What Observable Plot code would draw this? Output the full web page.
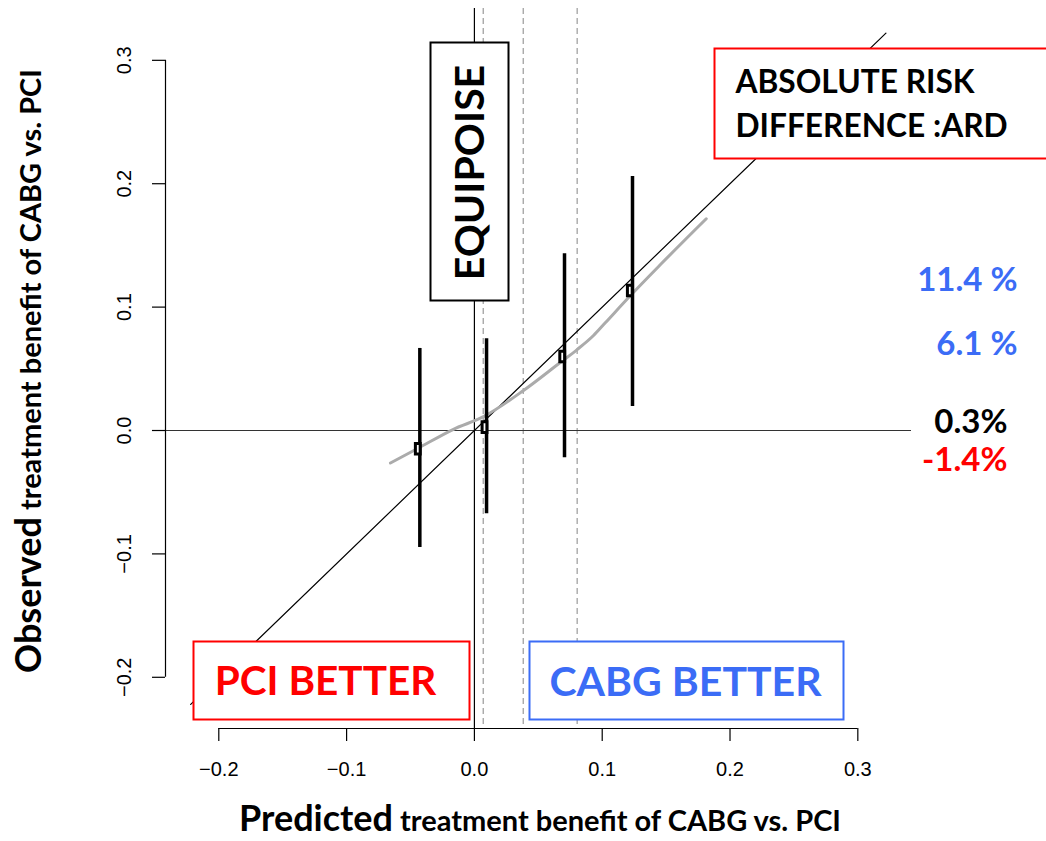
<!DOCTYPE html>
<html>
<head>
<meta charset="utf-8">
<script src="https://cdn.jsdelivr.net/npm/d3@7"></script>
<script src="https://cdn.jsdelivr.net/npm/@observablehq/plot@0.6"></script>
<style>
  html, body { margin: 0; padding: 0; background: #fff; }
  #chart { width: 1046px; height: 841px; }
</style>
</head>
<body>
<div id="chart"></div>
<script>
// ---------- data ----------
const xTicks = [-0.2, -0.1, 0, 0.1, 0.2, 0.3];
const yTicks = [-0.2, -0.1, 0, 0.1, 0.2, 0.3];
// quartile groups: predicted (x) vs observed (y) benefit
const groupPredicted = [-0.0443, 0.0079, 0.0687, 0.1216];
const groupObserved  = [-0.0148, 0.0027, 0.0600, 0.1135];
const ciPredicted    = [-0.0427, 0.0095, 0.0705, 0.1237];
const ciLower        = [-0.0948, -0.0675, -0.0221, 0.0194];
const ciUpper        = [0.0665, 0.0743, 0.1432, 0.2058];
// smoothed calibration curve
const smoothX = [-0.0657, -0.0448, -0.0164, 0.0071, 0.0384, 0.0674, 0.0804, 0.0932, 0.1026, 0.1214, 0.1456, 0.1814];
const smoothY = [-0.0263, -0.0148, 0.0010, 0.0112, 0.0324, 0.0553, 0.0656, 0.0770, 0.0875, 0.1086, 0.1345, 0.1716];
// quartile cut-offs of predicted benefit
const cutoffs = [0.0069, 0.0382, 0.0804];
// ideal calibration line y = x
const identityRange = [-0.222, 0.322];
const ardLabels = ["11.4 %", "6.1 %", "0.3%", "-1.4%"];
const xTitle = ["Predicted", "treatment benefit of CABG vs. PCI"];
const yTitle = ["Observed", "treatment benefit of CABG vs. PCI"];

// ---------- layout ----------
const W = 1046, H = 841;
const mL = 165, mR = 135, mT = 8, mB = 113;
const xDomain = [-0.2417, 0.3420];
const yDomain = [-0.2415, 0.3420];
const RED = "#ff0000", BLUE = "#3b6cf6";
const BOLD = "Lato, 'Open Sans', sans-serif";
const tickFmt = d3.format(".1f");

const groups = groupPredicted.map((x, i) => ({x, y: groupObserved[i], cx: ciPredicted[i], lo: ciLower[i], hi: ciUpper[i]}));
const smooth = smoothX.map((x, i) => ({x, y: smoothY[i]}));
const identity = identityRange.map(v => ({x: v, y: v}));

const rectSymbol = {
  draw(context) { context.rect(-2.4, -5.3, 4.8, 10.6); }
};

// annotation boxes (pixel insets relative to the frame)
const box = (l, r, t, b, stroke) => Plot.frame({
  insetLeft: l - mL, insetRight: (W - mR) - r, insetTop: t - mT, insetBottom: (H - mB) - b,
  stroke, strokeWidth: 2, fill: "white"
});
const note = (text, px, py, opts) => Plot.text([text], {
  text: d => d, frameAnchor: "top-left", dx: px - mL, dy: py - mT,
  fontFamily: BOLD, fontWeight: "bold", ...opts
});

const ardColors = [BLUE, BLUE, "#000", RED];
const ardPos = [[1017, 280], [1017, 344], [1007, 422], [1007, 460]];

const plot = Plot.plot({
  width: W, height: H,
  marginLeft: mL, marginRight: mR, marginTop: mT, marginBottom: mB,
  x: {domain: xDomain, axis: null},
  y: {domain: yDomain, axis: null},
  style: {fontFamily: "'Liberation Sans', Arial, sans-serif", fontSize: "20px", background: "white", overflow: "visible", color: "black"},
  marks: [
    Plot.ruleX(cutoffs, {stroke: "#9a9a9a", strokeWidth: 1.2, strokeDasharray: "6,4"}),
    Plot.ruleX([0], {stroke: "#000", strokeWidth: 1.2}),
    Plot.ruleY([0], {x1: -0.2519, x2: xDomain[1], stroke: "#333", strokeWidth: 1.2}),
    Plot.line(identity, {x: "x", y: "y", stroke: "#000", strokeWidth: 1.2}),
    Plot.line(smooth, {x: "x", y: "y", stroke: "#ababab", strokeWidth: 3, curve: "monotone-x"}),
    Plot.ruleX(groups, {x: "cx", y1: "lo", y2: "hi", stroke: "#000", strokeWidth: 3.5}),
    Plot.dot(groups, {x: "x", y: "y", symbol: rectSymbol, stroke: "#000", strokeWidth: 3, fill: "white"}),

    // annotation boxes
    box(430, 508, 42, 300, "#000"),
    box(714, 1047, 48, 158, RED),
    box(193, 469, 641, 719, RED),
    box(529, 843, 641, 719, BLUE),
    note("EQUIPOISE", 470, 172, {rotate: -90, fontSize: 41, fill: "#000", textAnchor: "middle", lineAnchor: "middle"}),
    note("ABSOLUTE RISK", 735, 82, {fontSize: 31.7, fill: "#000", textAnchor: "start", lineAnchor: "middle"}),
    note("DIFFERENCE :ARD", 735, 126, {fontSize: 31.7, fill: "#000", textAnchor: "start", lineAnchor: "middle"}),
    note("PCI BETTER", 325, 682, {fontSize: 40.5, fill: RED, textAnchor: "middle", lineAnchor: "middle"}),
    note("CABG BETTER", 685, 682, {fontSize: 41, fill: BLUE, textAnchor: "middle", lineAnchor: "middle"}),
    ...ardLabels.map((t, i) => note(t, ardPos[i][0], ardPos[i][1], {fontSize: 33, fill: ardColors[i], textAnchor: "end", lineAnchor: "middle"})),

    // axes (R style)
    Plot.ruleY([yDomain[0]], {x1: xTicks[0], x2: xTicks[xTicks.length - 1], stroke: "#000", strokeWidth: 1.2}),
    Plot.axisX(xTicks, {tickSize: 13, tickPadding: 20, fontSize: 20, tickFormat: tickFmt, stroke: "#000", fill: "#000", strokeWidth: 1.2}),
    Plot.ruleX([xDomain[0]], {y1: yTicks[0], y2: yTicks[yTicks.length - 1], stroke: "#000", strokeWidth: 1.2}),
    Plot.axisY(yTicks, {tickSize: 13, tickFormat: () => "", stroke: "#000", strokeWidth: 1.2}),
    Plot.text(yTicks, {y: d => d, text: d => tickFmt(d), frameAnchor: "left", dx: -41, rotate: -90,
      fontSize: 20, fill: "#000", textAnchor: "middle", lineAnchor: "middle"})
  ]
});

// axis titles with mixed font sizes
const svg = d3.select(plot);
const xt = svg.append("text")
  .attr("x", 540).attr("y", 831).attr("text-anchor", "middle")
  .attr("font-family", BOLD).attr("font-weight", "bold").attr("fill", "#000");
xt.append("tspan").attr("font-size", 36).text(xTitle[0]);
xt.append("tspan").attr("font-size", 29).text(" " + xTitle[1]);

const yt = svg.append("text")
  .attr("transform", "translate(41,371) rotate(-90)").attr("text-anchor", "middle")
  .attr("font-family", BOLD).attr("font-weight", "bold").attr("fill", "#000");
yt.append("tspan").attr("font-size", 36).text(yTitle[0]);
yt.append("tspan").attr("font-size", 29).text(" " + yTitle[1]);

document.getElementById("chart").appendChild(plot);
</script>
</body>
</html>
